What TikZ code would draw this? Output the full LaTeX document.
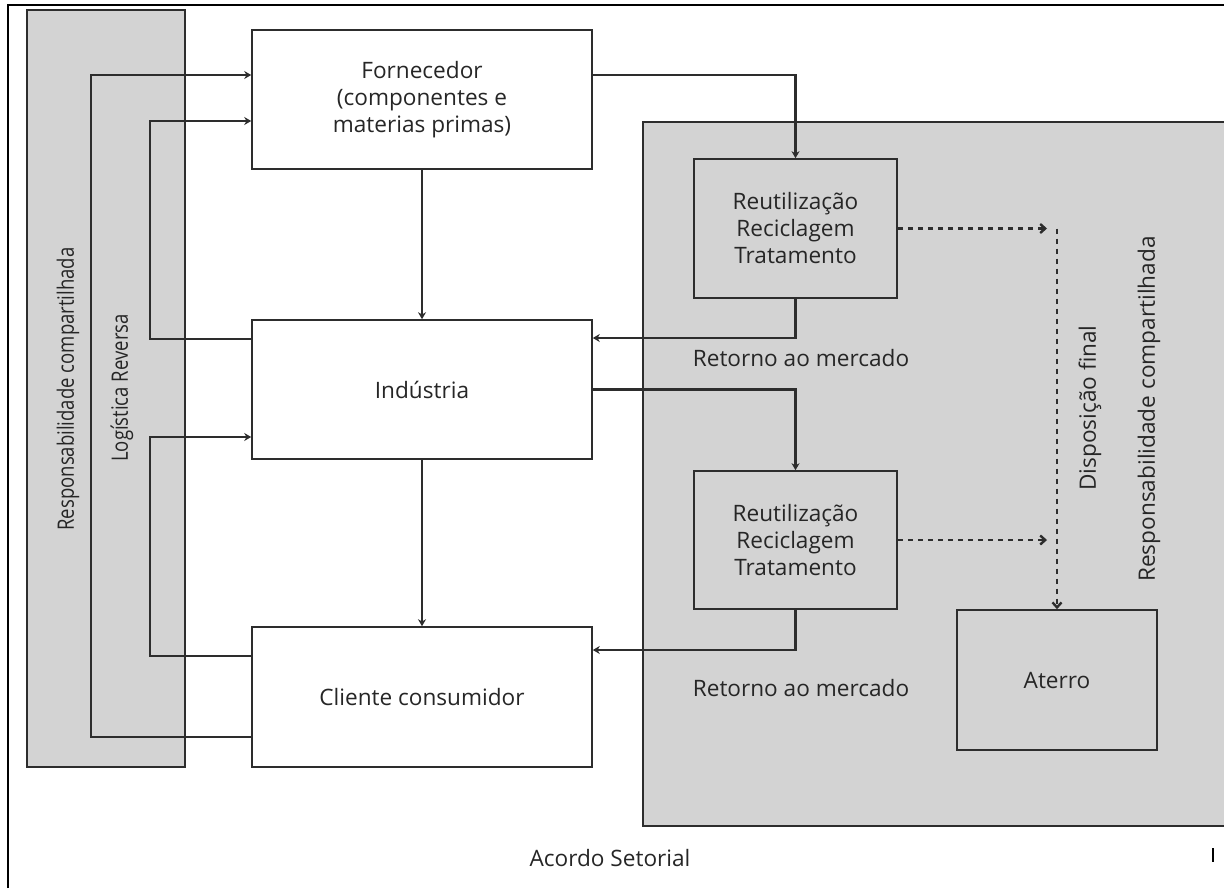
\documentclass[tikz,border=0pt]{standalone}
\usepackage{fontspec}
\setmainfont{Open Sans}
\newfontfamily\narrowfont[FakeStretch=0.82]{Open Sans}
\usetikzlibrary{arrows.meta}
\usepackage{xcolor}
\definecolor{panelgray}{RGB}{211,211,211}
\definecolor{linegray}{RGB}{45,45,45}

\begin{document}
\begin{tikzpicture}[x=0.5pt, y=-0.5pt,
  box/.style={rectangle, draw=linegray, line width=0.8pt, fill=white, align=center, inner sep=0pt, font=\fontsize{11.3}{13.5}\selectfont, text=black!85},
  txt/.style={inner sep=0pt, font=\fontsize{11.3}{13.5}\selectfont, text=black!85},
  arr/.style={draw=linegray, line width=1.1pt, -{Stealth[length=3.5pt,width=4pt]}},
  dotarr/.style={draw=linegray, line width=1.2pt, dash pattern=on 2.5pt off 2.5pt, -{Straight Barb[length=2.5pt,width=4.5pt]}}]
  \useasboundingbox (0,0) rectangle (1224,888);
  % frame
  \draw[line width=1pt] (8,888) -- (8,5) -- (1224,5);
  \draw[line width=1pt] (1213,848) -- (1213,862);
  % panels
  \fill[panelgray] (27,10) rectangle (185,767);
  \draw[linegray, line width=0.7pt] (27,10) rectangle (185,767);
  \fill[panelgray] (643,122) rectangle (1224,826);
  \draw[linegray, line width=0.7pt] (1224,122) -| (643,826) -- (1224,826);
  % boxes
  \node[box, minimum width=170pt, minimum height=69.5pt] (forn) at (422,99.5) {Fornecedor\\(componentes e\\materias primas)};
  \node[box, minimum width=170pt, minimum height=69.5pt] (ind) at (422,389.5) {Indústria};
  \node[box, minimum width=170pt, minimum height=70pt] (cli) at (422,697) {Cliente consumidor};
  \node[box, fill=panelgray, minimum width=101.5pt, minimum height=69.5pt] (reut1) at (795.5,228.5) {Reutilização\\Reciclagem\\Tratamento};
  \node[box, fill=panelgray, minimum width=101.5pt, minimum height=69pt] (reut2) at (795.5,540) {Reutilização\\Reciclagem\\Tratamento};
  \node[box, fill=panelgray, minimum width=100pt, minimum height=70pt] (aterro) at (1057,680) {Aterro};
  % labels
  \node[txt] (ret1) at (801,358) {Retorno ao mercado};
  \node[txt] (ret2) at (801,688) {Retorno ao mercado};
  \node[txt, rotate=90] (disp) at (1090,408) {Disposição final};
  \node[txt, rotate=90] (respdir) at (1149,409) {Responsabilidade compartilhada};
  \node[txt, rotate=90] (respesq) at (68,389) {\narrowfont Responsabilidade compartilhada};
  \node[txt, rotate=90] (logrev) at (122,388) {\narrowfont Logística Reversa};
  \node[txt] (acordo) at (610,858) {Acordo Setorial};
  % forward flow
  \draw[arr] (forn) -- (ind);
  \draw[arr] (ind) -- (cli);
  \draw[arr] ([yshift=12.25pt]forn.east) -| (reut1.north);
  \draw[arr] (ind.east) -| (reut2.north);
  \draw[arr] (reut1.south) |- ([yshift=25.75pt]ind.east);
  \draw[arr] (reut2.south) |- ([yshift=23.5pt]cli.east);
  % reverse flow
  \draw[arr] ([yshift=-20pt]cli.west) -- ++(-160,0) |- ([yshift=12.25pt]forn.west);
  \draw[arr] ([yshift=25.25pt]ind.west) -- ++(-101,0) |- ([yshift=-10.75pt]forn.west);
  \draw[arr] ([yshift=20.5pt]cli.west) -- ++(-101,0) |- ([yshift=-23.75pt]ind.west);
  % final disposal
  \draw[dotarr, shorten >=5pt] (reut1.east) -- (reut1.east -| aterro.north);
  \draw[dotarr, shorten >=5pt] (reut2.east) -- (reut2.east -| aterro.north);
  \draw[dotarr] (reut1.east -| aterro.north) -- (aterro.north);
\end{tikzpicture}
\end{document}
